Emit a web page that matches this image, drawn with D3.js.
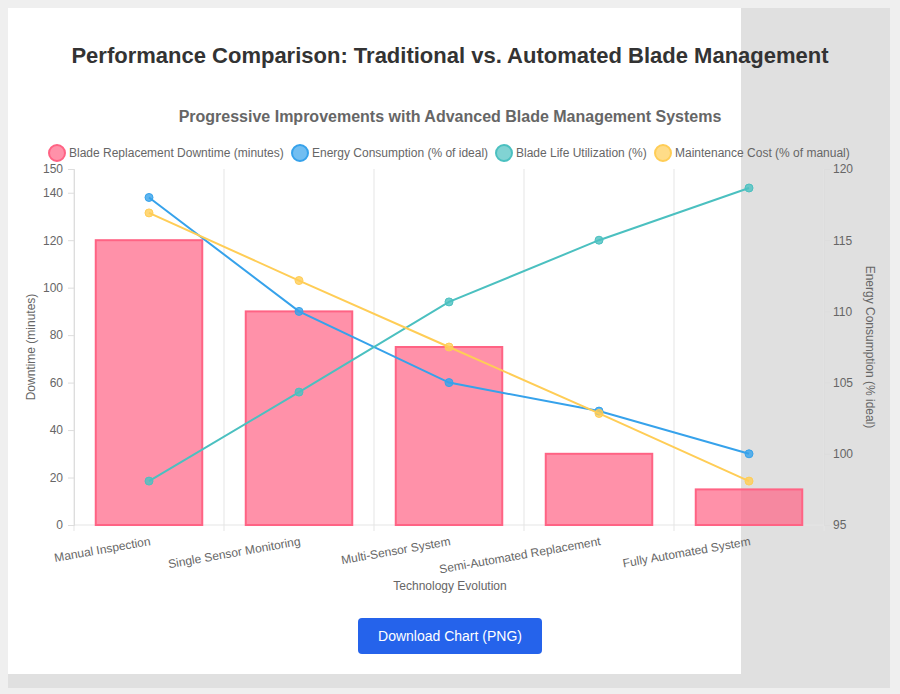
<!DOCTYPE html>
<html><head><meta charset="utf-8">
<script src="https://cdn.jsdelivr.net/npm/d3@7"></script>
<style>body{margin:0;background:#fff;font-family:"Liberation Sans",Arial,sans-serif}</style>
</head><body><svg id="c" width="900" height="694"></svg>
<script>
const categories=["Manual Inspection","Single Sensor Monitoring","Multi-Sensor System","Semi-Automated Replacement","Fully Automated System"];
const downtime=[120,90,75,30,15];
const energy=[118,110,105,103,100];
const bladeLife=[18.5,56,94,120,142];
const maintenance=[131.5,103,75,47,18.5];
const leftTicks=[0,20,40,60,80,100,120,140,150];
const rightTicks=[95,100,105,110,115,120];

const svg=d3.select("#c");
svg.append("rect").attr("x",0).attr("y",0).attr("width",900).attr("height",694).attr("fill","#efefef");
svg.append("rect").attr("x",8).attr("y",8).attr("width",882).attr("height",680).attr("fill","#fff");
svg.append("rect").attr("x",741).attr("y",8).attr("width",149).attr("height",680).attr("fill","#e0e0e0");
svg.append("rect").attr("x",8).attr("y",674).attr("width",882).attr("height",14).attr("fill","#e0e0e0");

svg.append("text").attr("x",450).attr("y",63).attr("text-anchor","middle").attr("font-size",22).attr("font-weight","bold").attr("fill","#333").text("Performance Comparison: Traditional vs. Automated Blade Management");
svg.append("text").attr("x",450).attr("y",122).attr("text-anchor","middle").attr("font-size",16).attr("font-weight","bold").attr("fill","#666").text("Progressive Improvements with Advanced Blade Management Systems");

const L=74,R=824,T=169,B=525;
const x=d3.scaleBand().domain(categories).range([L,R]).paddingInner(0.29).paddingOuter(0.145);
const xc=d=>x(d)+x.bandwidth()/2;
const y=d3.scaleLinear().domain([0,150]).range([B,T]);
const y2=d3.scaleLinear().domain([95,120]).range([B,T]);

// vertical grid
const g=svg.append("g");
for(let i=0;i<=5;i++){const gx=L+(R-L)/5*i;g.append("line").attr("x1",gx).attr("x2",gx).attr("y1",T).attr("y2",B+6).attr("stroke","#e5e5e5");}
g.append("line").attr("x1",L).attr("x2",R).attr("y1",B).attr("y2",B).attr("stroke","#e5e5e5");

const ax=svg.append("g").attr("transform",`translate(${L},0)`).call(d3.axisLeft(y).tickValues(leftTicks).tickSize(6).tickFormat(d3.format("d")));
const ax2=svg.append("g").attr("transform",`translate(${R},0)`).call(d3.axisRight(y2).tickValues(rightTicks).tickSize(6));
[ax,ax2].forEach(a=>{a.select(".domain").attr("stroke","#ddd");a.selectAll("line").attr("stroke","#ddd");a.selectAll("text").attr("fill","#666").attr("font-size",12).attr("font-family","Liberation Sans, Arial");});
ax.selectAll("text").attr("dx",-2);

svg.selectAll(".bar").data(downtime).enter().append("rect").attr("x",(d,i)=>x(categories[i])).attr("y",d=>y(d)).attr("width",x.bandwidth()).attr("height",d=>B-y(d))
 .attr("fill","rgba(255,99,132,0.7)").attr("stroke","rgb(255,99,132)").attr("stroke-width",2);

function line(vals,sc,col){
 const ln=d3.line().x((d,i)=>xc(categories[i])).y(d=>sc(d));
 svg.append("path").attr("d",ln(vals)).attr("fill","none").attr("stroke",col).attr("stroke-width",2);
 svg.selectAll(null).data(vals).enter().append("circle").attr("cx",(d,i)=>xc(categories[i])).attr("cy",d=>sc(d)).attr("r",4).attr("fill",col).attr("fill-opacity",0.8).attr("stroke",col);
}
line(energy,y2,"rgb(54,162,235)");
line(bladeLife,y,"rgb(75,192,192)");
line(maintenance,y,"rgb(255,205,86)");

categories.forEach(c=>{svg.append("text").attr("transform",`translate(${xc(c)+2},${545}) rotate(-10)`).attr("text-anchor","end").attr("font-size",12).attr("fill","#666").text(c);});
svg.append("text").attr("x",450).attr("y",590).attr("text-anchor","middle").attr("font-size",12).attr("fill","#666").text("Technology Evolution");
svg.append("text").attr("transform","translate(35,347) rotate(-90)").attr("text-anchor","middle").attr("font-size",12).attr("fill","#666").text("Downtime (minutes)");
svg.append("text").attr("transform","translate(866,347) rotate(90)").attr("text-anchor","middle").attr("font-size",12).attr("fill","#666").text("Energy Consumption (% ideal)");

const leg=[["Blade Replacement Downtime (minutes)","255,99,132",57],["Energy Consumption (% of ideal)","54,162,235",300],["Blade Life Utilization (%)","75,192,192",504],["Maintenance Cost (% of manual)","255,205,86",663]];
leg.forEach(([t,c,lx])=>{svg.append("circle").attr("cx",lx).attr("cy",153).attr("r",8).attr("fill",`rgba(${c},0.7)`).attr("stroke",`rgb(${c})`).attr("stroke-width",2);
 svg.append("text").attr("x",lx+12).attr("y",157).attr("font-size",12).attr("fill","#666").text(t);});

svg.append("rect").attr("x",358).attr("y",618).attr("width",184).attr("height",36).attr("rx",4).attr("fill","#2563eb");
svg.append("text").attr("x",450).attr("y",641).attr("text-anchor","middle").attr("font-size",14).attr("fill","#fff").text("Download Chart (PNG)");
</script></body></html>
